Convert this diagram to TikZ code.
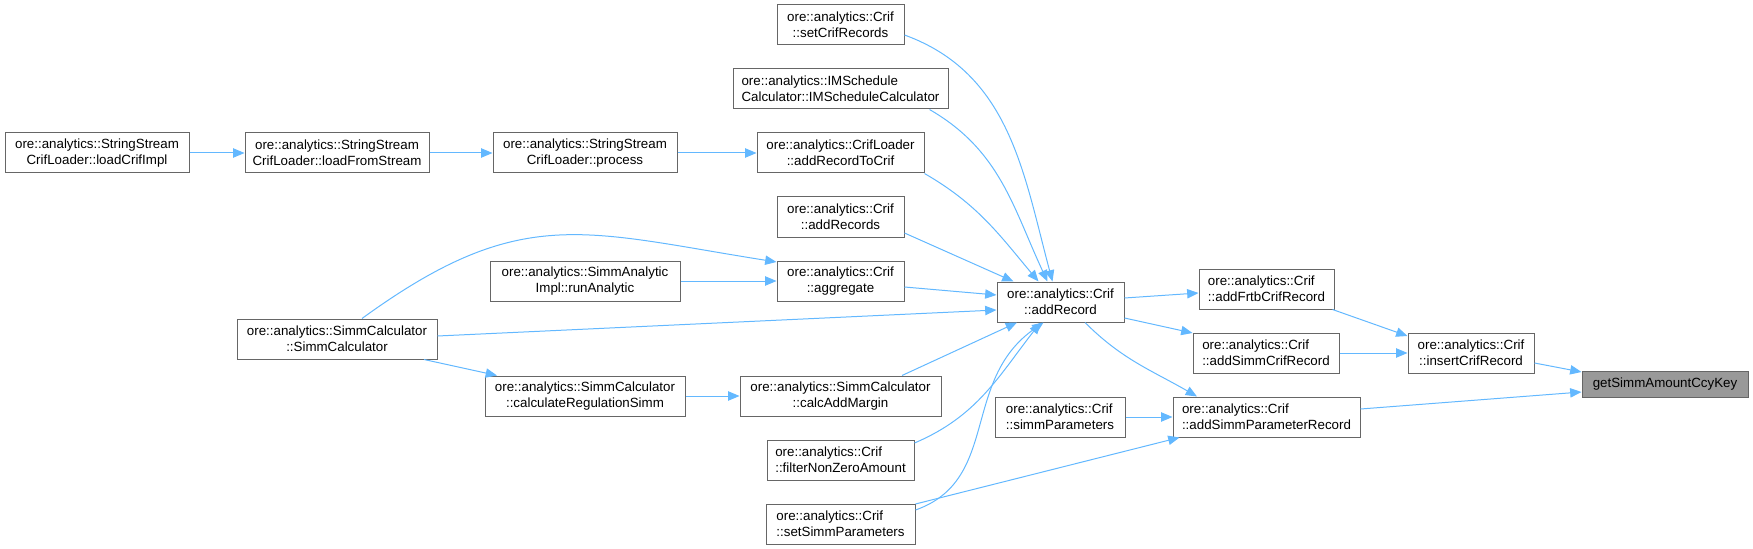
\documentclass[tikz,border=0pt]{standalone}
\usepackage{fontspec}
\setmainfont{Liberation Sans}
\usepackage{xcolor}
\usetikzlibrary{arrows.meta,calc,positioning}
\definecolor{edgeblue}{HTML}{63B8FF}
\definecolor{boxgray}{HTML}{666666}
\definecolor{hlgray}{HTML}{999999}

\begin{document}
\begin{tikzpicture}[x=0.75pt,y=-0.75pt,>={Triangle[length=8.5pt,width=7pt]},
  fn/.style={draw=boxgray,fill=white,line width=0.75pt,minimum height=30pt,inner sep=1pt,align=center,font=\fontsize{10}{12}\selectfont},
  fnl/.style={fn,align=left},
  wpx/.style={minimum width=#1*0.75pt},
  call/.style={->,draw=edgeblue,line width=0.75pt}]
  \useasboundingbox (0,0) rectangle (1753,549);
  \node[fn,wpx=184] (loadimpl) at (97,153) {ore::analytics::StringStream\\CrifLoader::loadCrifImpl};
  \node[fn,wpx=184] (loadstream) at (337,153) {ore::analytics::StringStream\\CrifLoader::loadFromStream};
  \node[fn,wpx=184] (process) at (585,153) {ore::analytics::StringStream\\CrifLoader::process};
  \node[fn,wpx=167] (addtocrif) at (840.5,153) {ore::analytics::CrifLoader\\::addRecordToCrif};
  \node[fn,wpx=127] (setcrif) at (840.5,25) {ore::analytics::Crif\\::setCrifRecords};
  \node[fnl,wpx=215] (imsched) at (840.5,89) {ore::analytics::IMSchedule\\Calculator::IMScheduleCalculator};
  \node[fn,wpx=127] (addrecords) at (840.5,217) {ore::analytics::Crif\\::addRecords};
  \node[fn,wpx=127] (aggregate) at (840.5,281) {ore::analytics::Crif\\::aggregate};
  \node[fn,wpx=190] (runanalytic) at (585,281) {ore::analytics::SimmAnalytic\\Impl::runAnalytic};
  \node[fn,wpx=127] (addrecord) at (1060.5,302) {ore::analytics::Crif\\::addRecord};
  \node[fn,wpx=200] (simmcalc) at (337,339) {ore::analytics::SimmCalculator\\::SimmCalculator};
  \node[fn,wpx=200] (calcreg) at (585,396) {ore::analytics::SimmCalculator\\::calculateRegulationSimm};
  \node[fn,wpx=201] (calcmargin) at (840.5,396) {ore::analytics::SimmCalculator\\::calcAddMargin};
  \node[fnl,wpx=147] (filternz) at (840.5,460) {ore::analytics::Crif\\::filterNonZeroAmount};
  \node[fnl,wpx=149] (setsimmpar) at (840.5,524) {ore::analytics::Crif\\::setSimmParameters};
  \node[fnl,wpx=130] (simmpar) at (1060,417) {ore::analytics::Crif\\::simmParameters};
  \node[fnl,wpx=135] (addfrtb) at (1266.5,289) {ore::analytics::Crif\\::addFrtbCrifRecord};
  \node[fnl,wpx=146] (addsimmcrif) at (1266,353) {ore::analytics::Crif\\::addSimmCrifRecord};
  \node[fnl,wpx=187] (addsimmpar) at (1266.5,417) {ore::analytics::Crif\\::addSimmParameterRecord};
  \node[fn,wpx=126] (insertcrif) at (1471,353) {ore::analytics::Crif\\::insertCrifRecord};
  \node[fn,wpx=166,minimum height=19.5pt,fill=hlgray] (getkey) at (1665,384) {getSimmAmountCcyKey};

  \draw[call] (loadimpl) -- (loadstream);
  \draw[call] (loadstream) -- (process);
  \draw[call] (process) -- (addtocrif);
  \draw[call] ($(setcrif.east)+(0,10)$) to[out=-20,in=105] ($(addrecord.north)+(-8,0)$);
  \draw[call] ($(imsched.south east)+(-19,0)$) to[out=-30,in=115] ($(addrecord.north)+(-13,0)$);
  \draw[call] ($(addtocrif.south east)+(0,0)$) to[out=-30,in=130] ($(addrecord.north)+(-22,0)$);
  \draw[call] ($(addrecords.east)+(0,16)$) -- ($(addrecord.north)+(-47,0)$);
  \draw[call] ($(aggregate.east)+(0,6)$) -- ($(addrecord.west)+(0,-7)$);
  \draw[call] (runanalytic) -- (aggregate);
  \draw[call] ($(simmcalc.north)+(25,0)$) to[out=36,in=171,looseness=1.2] ($(aggregate.west)+(0,-19)$);
  \draw[call] ($(simmcalc.east)+(0,-3)$) -- ($(addrecord.west)+(0,8)$);
  \draw[call] ($(simmcalc.south)+(87,0)$) -- ($(calcreg.north)+(-88,0)$);
  \draw[call] (calcreg) -- (calcmargin);
  \draw[call] ($(calcmargin.north)+(61.5,0)$) -- ($(addrecord.south)+(-43.5,0)$);
  \draw[call] ($(filternz.east)+(0,-17)$) to[out=23,in=-128] ($(addrecord.south)+(-20,0)$);
  \draw[call] ($(setsimmpar.east)+(0,-14)$) .. controls +(85,-30) and +(-83,58) .. ($(addrecord.south)+(-17,0)$);
  \draw[call] ($(setsimmpar.east)+(0,-20)$) -- ($(addsimmpar.south west)+(7,0)$);
  \draw[call] (simmpar) -- (addsimmpar);
  \draw[call] ($(addrecord.east)+(0,-4)$) -- ($(addfrtb.west)+(0,4)$);
  \draw[call] ($(addrecord.east)+(0,16)$) -- ($(addsimmcrif.west)+(0,-20)$);
  \draw[call] ($(addrecord.south)+(24.5,0)$) to[out=-45,in=150] ($(addsimmpar.north)+(-69.5,0)$);
  \draw[call] ($(addfrtb.south east)+(-2,0)$) -- ($(insertcrif.west)+(0,-17)$);
  \draw[call] (addsimmcrif) -- (insertcrif);
  \draw[call] ($(insertcrif.east)+(0,10)$) -- ($(getkey.west)+(0,-12)$);
  \draw[call] ($(addsimmpar.east)+(0,-8)$) -- ($(getkey.west)+(0,8)$);
\end{tikzpicture}
\end{document}
